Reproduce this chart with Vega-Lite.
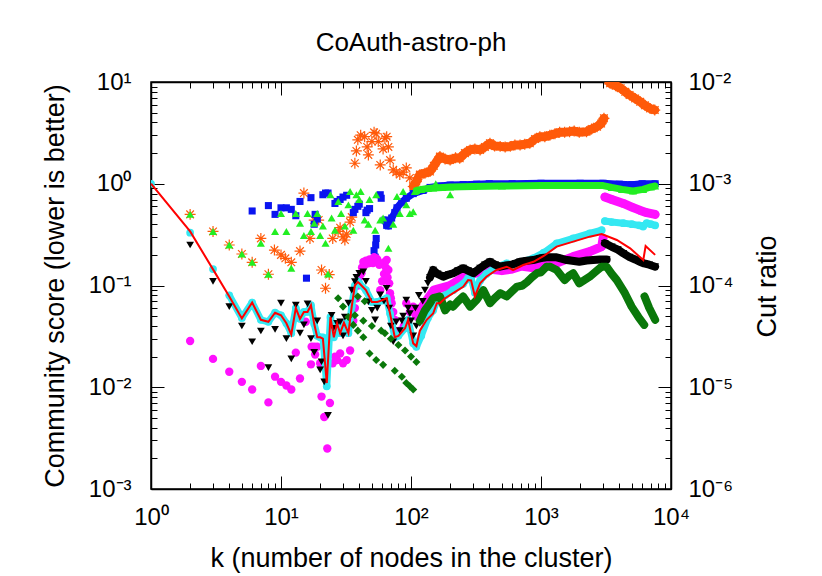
{
  "$schema": "https://vega.github.io/schema/vega-lite/v6.json",
  "width": 520,
  "height": 407,
  "autosize": {"type": "none"},
  "padding": {"left": 151, "top": 82, "right": 151, "bottom": 87},
  "background": "white",
  "title": {"text": "CoAuth-astro-ph", "fontSize": 26, "font": "Liberation Sans", "fontWeight": "normal", "color": "black", "anchor": "middle", "baseline": "alphabetic", "frame": "group", "offset": 34, "dy": 41},
  "config": {
    "view": {"stroke": "black", "strokeWidth": 1.5},
    "axis": {"tickColor": "black", "tickWidth": 1, "domainColor": "black", "domainWidth": 1.5, "labelColor": "black", "labelFont": "Liberation Sans", "labelFontSize": 24, "grid": false, "labelOverlap": false, "labelFlush": false, "labelBound": false, "titleFont": "Liberation Sans", "titleFontSize": 27, "titleFontWeight": "normal", "titleColor": "black"}
  },
  "resolve": {"axis": {"x": "independent", "y": "independent"}},
  "data": {"values": [
    {"s":"r","k":1,"v":1},{"s":"r","k":2,"v":0.34},{"s":"r","k":3,"v":0.144},{"s":"r","k":4,"v":0.078},{"s":"r","k":5,"v":0.0475},{"s":"r","k":6,"v":0.068},{"s":"r","k":7,"v":0.046},{"s":"r","k":8,"v":0.044},{"s":"r","k":9,"v":0.054},{"s":"r","k":10,"v":0.051},{"s":"r","k":11,"v":0.0425},{"s":"r","k":12,"v":0.033},{"s":"r","k":13,"v":0.06},{"s":"r","k":14,"v":0.047},{"s":"r","k":15,"v":0.055},{"s":"r","k":16,"v":0.055},{"s":"r","k":17,"v":0.064},{"s":"r","k":18,"v":0.042},{"s":"r","k":19,"v":0.031},{"s":"r","k":20,"v":0.031},{"s":"r","k":21,"v":0.03},{"s":"r","k":22.5,"v":0.011},{"s":"r","k":24,"v":0.049},{"s":"r","k":25.5,"v":0.031},{"s":"r","k":27,"v":0.0425},{"s":"r","k":28.5,"v":0.034},{"s":"r","k":30.5,"v":0.043},{"s":"r","k":33,"v":0.034},{"s":"r","k":35,"v":0.062},{"s":"r","k":37,"v":0.1},{"s":"r","k":39,"v":0.108},{"s":"r","k":40,"v":0.105},{"s":"r","k":45,"v":0.09},{"s":"r","k":50,"v":0.069},{"s":"r","k":55,"v":0.069},{"s":"r","k":59,"v":0.071},{"s":"r","k":65,"v":0.075},{"s":"r","k":69,"v":0.053},{"s":"r","k":75,"v":0.031},{"s":"r","k":80,"v":0.032},{"s":"r","k":90,"v":0.038},{"s":"r","k":95,"v":0.046},{"s":"r","k":104,"v":0.027},{"s":"r","k":110,"v":0.0254},{"s":"r","k":117,"v":0.036},{"s":"r","k":132,"v":0.046},{"s":"r","k":148,"v":0.053},{"s":"r","k":158,"v":0.067},{"s":"r","k":167,"v":0.067},{"s":"r","k":183,"v":0.075},{"s":"r","k":211,"v":0.084},{"s":"r","k":252,"v":0.097},{"s":"r","k":275,"v":0.113},{"s":"r","k":290,"v":0.112},{"s":"r","k":310,"v":0.078},{"s":"r","k":340,"v":0.105},{"s":"r","k":380,"v":0.122},{"s":"r","k":455,"v":0.142},{"s":"r","k":545,"v":0.153},{"s":"r","k":610,"v":0.142},{"s":"r","k":730,"v":0.159},{"s":"r","k":875,"v":0.171},{"s":"r","k":1050,"v":0.195},{"s":"r","k":1320,"v":0.241},{"s":"r","k":1770,"v":0.27},{"s":"r","k":2370,"v":0.302},{"s":"r","k":2930,"v":0.32},{"s":"r","k":3830,"v":0.28},{"s":"r","k":4850,"v":0.232},{"s":"r","k":6120,"v":0.178},{"s":"r","k":6380,"v":0.244},{"s":"r","k":7550,"v":0.2},

    {"s":"c","k":1,"v":1},{"s":"c","k":2,"v":0.33},{"s":"c","k":3,"v":0.145},{"s":"c","k":4,"v":0.08,"g":"c1"},{"s":"c","k":5,"v":0.048,"g":"c1"},{"s":"c","k":6,"v":0.068,"g":"c1"},{"s":"c","k":7,"v":0.046,"g":"c1"},{"s":"c","k":8,"v":0.044,"g":"c1"},{"s":"c","k":9,"v":0.054,"g":"c1"},{"s":"c","k":10,"v":0.051,"g":"c1"},{"s":"c","k":11,"v":0.0425,"g":"c1"},{"s":"c","k":12,"v":0.034,"g":"c1"},{"s":"c","k":13,"v":0.06,"g":"c1"},{"s":"c","k":14,"v":0.047,"g":"c1"},{"s":"c","k":15,"v":0.055,"g":"c1"},{"s":"c","k":16,"v":0.055,"g":"c1"},{"s":"c","k":17,"v":0.064,"g":"c1"},{"s":"c","k":18,"v":0.042,"g":"c1"},{"s":"c","k":19,"v":0.032,"g":"c1"},{"s":"c","k":20,"v":0.031,"g":"c1"},{"s":"c","k":21,"v":0.031,"g":"c1"},{"s":"c","k":22.5,"v":0.0102,"g":"c1"},{"s":"c","k":24,"v":0.049,"g":"c1"},{"s":"c","k":25.5,"v":0.031,"g":"c1"},{"s":"c","k":27,"v":0.042,"g":"c1"},{"s":"c","k":28.5,"v":0.034,"g":"c1"},{"s":"c","k":30.5,"v":0.043,"g":"c1"},{"s":"c","k":33,"v":0.034,"g":"c1"},{"s":"c","k":35,"v":0.062,"g":"c1"},{"s":"c","k":37,"v":0.1,"g":"c1"},{"s":"c","k":39,"v":0.11,"g":"c1"},{"s":"c","k":40,"v":0.105,"g":"c1"},{"s":"c","k":45,"v":0.09,"g":"c1"},{"s":"c","k":50,"v":0.069,"g":"c1"},{"s":"c","k":55,"v":0.069,"g":"c1"},{"s":"c","k":59,"v":0.071,"g":"c1"},{"s":"c","k":65,"v":0.075,"g":"c1"},{"s":"c","k":69,"v":0.053,"g":"c1"},{"s":"c","k":75,"v":0.031,"g":"c1"},{"s":"c","k":80,"v":0.032,"g":"c1"},{"s":"c","k":90,"v":0.038,"g":"c1"},{"s":"c","k":95,"v":0.046,"g":"c1"},{"s":"c","k":104,"v":0.027,"g":"c1"},{"s":"c","k":110,"v":0.025,"g":"c1"},{"s":"c","k":120,"v":0.032,"g":"c1"},{"s":"c","k":135,"v":0.048,"g":"c1"},{"s":"c","k":148,"v":0.057,"g":"c1"},{"s":"c","k":158,"v":0.07,"g":"c1"},{"s":"c","k":183,"v":0.08,"g":"c1"},{"s":"c","k":211,"v":0.09,"g":"c1"},{"s":"c","k":252,"v":0.104,"g":"c1"},{"s":"c","k":275,"v":0.118,"g":"c1"},{"s":"c","k":290,"v":0.118,"g":"c1"},{"s":"c","k":310,"v":0.085,"g":"c1"},{"s":"c","k":340,"v":0.112,"g":"c1"},{"s":"c","k":380,"v":0.13,"g":"c1"},{"s":"c","k":455,"v":0.152,"g":"c1"},{"s":"c","k":545,"v":0.165,"g":"c1"},{"s":"c","k":610,"v":0.155,"g":"c1"},{"s":"c","k":730,"v":0.172,"g":"c1"},{"s":"c","k":875,"v":0.186,"g":"c1"},{"s":"c","k":1050,"v":0.21,"g":"c1"},{"s":"c","k":1320,"v":0.26,"g":"c1"},{"s":"c","k":1770,"v":0.29,"g":"c1"},{"s":"c","k":2370,"v":0.325,"g":"c1"},{"s":"c","k":2930,"v":0.35,"g":"c1"},
    {"s":"c","k":3100,"v":0.43,"g":"c2"},{"s":"c","k":3500,"v":0.42,"g":"c2"},{"s":"c","k":4300,"v":0.41,"g":"c2"},{"s":"c","k":5000,"v":0.4,"g":"c2"},{"s":"c","k":5700,"v":0.39,"g":"c2"},{"s":"c","k":6100,"v":0.38,"g":"c2"},{"s":"c","k":6500,"v":0.41,"g":"c2"},{"s":"c","k":7000,"v":0.4,"g":"c2"},{"s":"c","k":7550,"v":0.39,"g":"c2"},

    {"s":"b","k":2,"v":0.25},{"s":"b","k":3,"v":0.11},{"s":"b","k":4,"v":0.062},{"s":"b","k":5,"v":0.04},{"s":"b","k":6,"v":0.028},{"s":"b","k":7,"v":0.0357},{"s":"b","k":8,"v":0.0156},{"s":"b","k":9,"v":0.037},{"s":"b","k":10,"v":0.067},{"s":"b","k":11,"v":0.03},{"s":"b","k":12,"v":0.019},{"s":"b","k":13,"v":0.064},{"s":"b","k":14,"v":0.034},{"s":"b","k":15,"v":0.041},{"s":"b","k":16,"v":0.066},{"s":"b","k":17,"v":0.03},{"s":"b","k":18,"v":0.022},{"s":"b","k":19,"v":0.045},{"s":"b","k":20,"v":0.0148},{"s":"b","k":20.5,"v":0.0178},{"s":"b","k":21.5,"v":0.0113},{"s":"b","k":23,"v":0.0053},{"s":"b","k":24.5,"v":0.051},{"s":"b","k":25.3,"v":0.038},{"s":"b","k":27,"v":0.0425},{"s":"b","k":28.5,"v":0.044},{"s":"b","k":30,"v":0.032},{"s":"b","k":31,"v":0.049},{"s":"b","k":33,"v":0.067},{"s":"b","k":35,"v":0.09},{"s":"b","k":37,"v":0.109},{"s":"b","k":38,"v":0.12},{"s":"b","k":40,"v":0.132},{"s":"b","k":43,"v":0.136},{"s":"b","k":45,"v":0.11},{"s":"b","k":47,"v":0.069},{"s":"b","k":50,"v":0.057},{"s":"b","k":53,"v":0.046},{"s":"b","k":55,"v":0.06},{"s":"b","k":58,"v":0.081},{"s":"b","k":62,"v":0.07},{"s":"b","k":65,"v":0.094},{"s":"b","k":68,"v":0.06},{"s":"b","k":70,"v":0.04},{"s":"b","k":73,"v":0.028},{"s":"b","k":77,"v":0.044},{"s":"b","k":82,"v":0.036},{"s":"b","k":85,"v":0.045},{"s":"b","k":87,"v":0.05},{"s":"b","k":92,"v":0.072},{"s":"b","k":95,"v":0.06},{"s":"b","k":98,"v":0.053},{"s":"b","k":100,"v":0.045},{"s":"b","k":104,"v":0.032},{"s":"b","k":108,"v":0.06},{"s":"b","k":110,"v":0.04},{"s":"b","k":115,"v":0.08},{"s":"b","k":117,"v":0.0425},{"s":"b","k":123,"v":0.07},{"s":"b","k":128,"v":0.09},{"s":"b","k":135,"v":0.105},
    {"s":"b","k":140,"v":0.12,"g":"b1"},{"s":"b","k":148,"v":0.142,"g":"b1"},{"s":"b","k":160,"v":0.13,"g":"b1"},{"s":"b","k":177,"v":0.122,"g":"b1"},{"s":"b","k":195,"v":0.128,"g":"b1"},{"s":"b","k":211,"v":0.132,"g":"b1"},{"s":"b","k":230,"v":0.14,"g":"b1"},{"s":"b","k":252,"v":0.148,"g":"b1"},{"s":"b","k":275,"v":0.14,"g":"b1"},{"s":"b","k":302,"v":0.132,"g":"b1"},{"s":"b","k":340,"v":0.148,"g":"b1"},{"s":"b","k":370,"v":0.16,"g":"b1"},{"s":"b","k":405,"v":0.171,"g":"b1"},{"s":"b","k":445,"v":0.16,"g":"b1"},{"s":"b","k":485,"v":0.153,"g":"b1"},{"s":"b","k":530,"v":0.157,"g":"b1"},{"s":"b","k":580,"v":0.159,"g":"b1"},{"s":"b","k":640,"v":0.165,"g":"b1"},{"s":"b","k":690,"v":0.171,"g":"b1"},{"s":"b","k":780,"v":0.175,"g":"b1"},{"s":"b","k":870,"v":0.178,"g":"b1"},{"s":"b","k":980,"v":0.185,"g":"b1"},{"s":"b","k":1100,"v":0.189,"g":"b1"},{"s":"b","k":1320,"v":0.189,"g":"b1"},{"s":"b","k":1580,"v":0.178,"g":"b1"},{"s":"b","k":1970,"v":0.171,"g":"b1"},{"s":"b","k":2250,"v":0.176,"g":"b1"},{"s":"b","k":2520,"v":0.178,"g":"b1"},{"s":"b","k":2850,"v":0.18,"g":"b1"},{"s":"b","k":3200,"v":0.18,"g":"b1"},
    {"s":"b","k":3100,"v":0.26,"g":"b2"},{"s":"b","k":3500,"v":0.24,"g":"b2"},{"s":"b","k":3900,"v":0.225,"g":"b2"},{"s":"b","k":4300,"v":0.207,"g":"b2"},{"s":"b","k":4800,"v":0.19,"g":"b2"},{"s":"b","k":5300,"v":0.18,"g":"b2"},{"s":"b","k":5740,"v":0.171,"g":"b2"},{"s":"b","k":6200,"v":0.165,"g":"b2"},{"s":"b","k":6800,"v":0.16,"g":"b2"},{"s":"b","k":7550,"v":0.153,"g":"b2"},

    {"s":"m","k":2,"v":0.0285},{"s":"m","k":3,"v":0.019},{"s":"m","k":4,"v":0.0142},{"s":"m","k":5,"v":0.0113},{"s":"m","k":6,"v":0.0095},{"s":"m","k":7,"v":0.0162},{"s":"m","k":8,"v":0.0071},{"s":"m","k":9,"v":0.0127},{"s":"m","k":10,"v":0.0113},{"s":"m","k":11,"v":0.0104},{"s":"m","k":12,"v":0.0095},{"s":"m","k":13,"v":0.0219},{"s":"m","k":14,"v":0.0122},{"s":"m","k":15.5,"v":0.044},{"s":"m","k":17,"v":0.0168},{"s":"m","k":17.2,"v":0.025},{"s":"m","k":18,"v":0.025},{"s":"m","k":18.3,"v":0.021},{"s":"m","k":19,"v":0.025},{"s":"m","k":20,"v":0.0172},{"s":"m","k":20.5,"v":0.0081},{"s":"m","k":21.5,"v":0.0051},{"s":"m","k":22.7,"v":0.0025},{"s":"m","k":23.8,"v":0.007},{"s":"m","k":25,"v":0.0172},{"s":"m","k":26,"v":0.02},{"s":"m","k":27,"v":0.0185},{"s":"m","k":28.5,"v":0.0215},{"s":"m","k":30,"v":0.0172},{"s":"m","k":32,"v":0.0185},{"s":"m","k":34,"v":0.023},{"s":"m","k":36,"v":0.045},{"s":"m","k":37,"v":0.06},{"s":"m","k":38,"v":0.075},{"s":"m","k":39,"v":0.1},{"s":"m","k":40,"v":0.12},{"s":"m","k":41.6,"v":0.132},{"s":"m","k":42,"v":0.15},{"s":"m","k":43,"v":0.17},{"s":"m","k":44,"v":0.159},{"s":"m","k":45,"v":0.175},{"s":"m","k":47,"v":0.165},{"s":"m","k":48,"v":0.18},{"s":"m","k":50,"v":0.17},{"s":"m","k":51,"v":0.166},{"s":"m","k":52,"v":0.19},{"s":"m","k":54,"v":0.185},{"s":"m","k":55,"v":0.18},{"s":"m","k":56,"v":0.171},{"s":"m","k":57,"v":0.16},{"s":"m","k":58,"v":0.09},{"s":"m","k":60,"v":0.11},{"s":"m","k":62,"v":0.13},{"s":"m","k":63,"v":0.17},{"s":"m","k":64,"v":0.15},{"s":"m","k":65,"v":0.178},{"s":"m","k":66,"v":0.12},{"s":"m","k":67,"v":0.142},{"s":"m","k":68,"v":0.105},{"s":"m","k":69,"v":0.084},{"s":"m","k":70,"v":0.075},{"s":"m","k":71,"v":0.067},{"s":"m","k":73,"v":0.055},{"s":"m","k":75,"v":0.046},{"s":"m","k":82,"v":0.036},{"s":"m","k":88,"v":0.04},{"s":"m","k":92,"v":0.067},{"s":"m","k":98,"v":0.055},{"s":"m","k":104,"v":0.062},
    {"s":"m","k":110,"v":0.05,"g":"m1"},{"s":"m","k":120,"v":0.06,"g":"m1"},{"s":"m","k":150,"v":0.09,"g":"m1"},{"s":"m","k":200,"v":0.1,"g":"m1"},{"s":"m","k":250,"v":0.12,"g":"m1"},{"s":"m","k":300,"v":0.13,"g":"m1"},{"s":"m","k":400,"v":0.145,"g":"m1"},{"s":"m","k":500,"v":0.14,"g":"m1"},{"s":"m","k":600,"v":0.145,"g":"m1"},{"s":"m","k":700,"v":0.155,"g":"m1"},{"s":"m","k":850,"v":0.15,"g":"m1"},{"s":"m","k":980,"v":0.153,"g":"m1"},{"s":"m","k":1320,"v":0.166,"g":"m1"},{"s":"m","k":1770,"v":0.192,"g":"m1"},{"s":"m","k":2370,"v":0.215,"g":"m1"},{"s":"m","k":2930,"v":0.241,"g":"m1"},{"s":"m","k":3000,"v":0.29,"g":"m1"},
    {"s":"m","k":3100,"v":0.74,"g":"m2"},{"s":"m","k":3500,"v":0.7,"g":"m2"},{"s":"m","k":4300,"v":0.64,"g":"m2"},{"s":"m","k":5000,"v":0.59,"g":"m2"},{"s":"m","k":5740,"v":0.55,"g":"m2"},{"s":"m","k":6500,"v":0.52,"g":"m2"},{"s":"m","k":7550,"v":0.5,"g":"m2"},

    {"s":"d","k":27.5,"v":0.075},{"s":"d","k":30,"v":0.062},{"s":"d","k":33,"v":0.049},{"s":"d","k":36,"v":0.041},{"s":"d","k":39,"v":0.036},{"s":"d","k":43,"v":0.031},{"s":"d","k":48,"v":0.0215},{"s":"d","k":54,"v":0.0185},{"s":"d","k":61,"v":0.0166},{"s":"d","k":39,"v":0.078},{"s":"d","k":44,"v":0.07},{"s":"d","k":37,"v":0.051},{"s":"d","k":43,"v":0.045},{"s":"d","k":50,"v":0.04},{"s":"d","k":59,"v":0.036},{"s":"d","k":63,"v":0.034},{"s":"d","k":70,"v":0.03},{"s":"d","k":80,"v":0.026},{"s":"d","k":90,"v":0.023},{"s":"d","k":100,"v":0.02},{"s":"d","k":110,"v":0.0177},{"s":"d","k":75,"v":0.0145},{"s":"d","k":85,"v":0.0127},{"s":"d","k":92,"v":0.011},{"s":"d","k":98,"v":0.0102},{"s":"d","k":104,"v":0.0095},
    {"s":"d","k":117,"v":0.045,"g":"d1"},{"s":"d","k":128,"v":0.057,"g":"d1"},{"s":"d","k":140,"v":0.067,"g":"d1"},{"s":"d","k":148,"v":0.075,"g":"d1"},{"s":"d","k":167,"v":0.078,"g":"d1"},{"s":"d","k":183,"v":0.057,"g":"d1"},{"s":"d","k":200,"v":0.065,"g":"d1"},{"s":"d","k":211,"v":0.062,"g":"d1"},{"s":"d","k":230,"v":0.07,"g":"d1"},{"s":"d","k":252,"v":0.078,"g":"d1"},{"s":"d","k":285,"v":0.062,"g":"d1"},{"s":"d","k":320,"v":0.072,"g":"d1"},{"s":"d","k":360,"v":0.09,"g":"d1"},{"s":"d","k":405,"v":0.067,"g":"d1"},{"s":"d","k":440,"v":0.075,"g":"d1"},{"s":"d","k":485,"v":0.084,"g":"d1"},{"s":"d","k":545,"v":0.078,"g":"d1"},{"s":"d","k":600,"v":0.088,"g":"d1"},{"s":"d","k":650,"v":0.097,"g":"d1"},{"s":"d","k":720,"v":0.1,"g":"d1"},{"s":"d","k":780,"v":0.108,"g":"d1"},{"s":"d","k":850,"v":0.12,"g":"d1"},{"s":"d","k":930,"v":0.132,"g":"d1"},{"s":"d","k":1000,"v":0.135,"g":"d1"},{"s":"d","k":1100,"v":0.153,"g":"d1"},{"s":"d","k":1170,"v":0.153,"g":"d1"},{"s":"d","k":1320,"v":0.142,"g":"d1"},{"s":"d","k":1520,"v":0.113,"g":"d1"},{"s":"d","k":1650,"v":0.125,"g":"d1"},{"s":"d","k":1770,"v":0.132,"g":"d1"},{"s":"d","k":1970,"v":0.105,"g":"d1"},{"s":"d","k":2370,"v":0.122,"g":"d1"},{"s":"d","k":2600,"v":0.135,"g":"d1"},{"s":"d","k":2930,"v":0.153,"g":"d1"},{"s":"d","k":3200,"v":0.153,"g":"d1"},{"s":"d","k":3500,"v":0.13,"g":"d1"},{"s":"d","k":3830,"v":0.113,"g":"d1"},{"s":"d","k":4420,"v":0.084,"g":"d1"},{"s":"d","k":4980,"v":0.062,"g":"d1"},{"s":"d","k":5620,"v":0.049,"g":"d1"},{"s":"d","k":6220,"v":0.041,"g":"d1"},
    {"s":"d","k":6260,"v":0.078,"g":"d2"},{"s":"d","k":6800,"v":0.06,"g":"d2"},{"s":"d","k":7550,"v":0.046,"g":"d2"},

    {"s":"u","k":6,"v":0.54},{"s":"u","k":8,"v":0.61},{"s":"u","k":9,"v":0.5},{"s":"u","k":10,"v":0.58},{"s":"u","k":11,"v":0.58},{"s":"u","k":12,"v":0.56},{"s":"u","k":13,"v":0.485},{"s":"u","k":14,"v":0.67},{"s":"u","k":15.7,"v":0.118},{"s":"u","k":17,"v":0.73},{"s":"u","k":18,"v":0.4},{"s":"u","k":18.3,"v":0.5},{"s":"u","k":19,"v":0.45},{"s":"u","k":21,"v":0.78},{"s":"u","k":22,"v":0.81},{"s":"u","k":23,"v":0.81},{"s":"u","k":26,"v":0.64},{"s":"u","k":27,"v":0.67},{"s":"u","k":28.5,"v":0.7},{"s":"u","k":30,"v":0.74},{"s":"u","k":32,"v":0.77},{"s":"u","k":36,"v":0.52},{"s":"u","k":37,"v":0.56},{"s":"u","k":39,"v":0.6},{"s":"u","k":40,"v":0.63},{"s":"u","k":45,"v":0.52},{"s":"u","k":46,"v":0.55},{"s":"u","k":48,"v":0.57},{"s":"u","k":52,"v":0.22},{"s":"u","k":53,"v":0.19},{"s":"u","k":53.5,"v":0.25},{"s":"u","k":54,"v":0.29},{"s":"u","k":58,"v":0.78},{"s":"u","k":59,"v":0.72},
    {"s":"u","k":63,"v":0.44,"g":"u1"},{"s":"u","k":65,"v":0.39,"g":"u1"},{"s":"u","k":67,"v":0.385,"g":"u1"},{"s":"u","k":71,"v":0.46,"g":"u1"},{"s":"u","k":75,"v":0.52,"g":"u1"},{"s":"u","k":78,"v":0.58,"g":"u1"},{"s":"u","k":85,"v":0.66,"g":"u1"},{"s":"u","k":92,"v":0.72,"g":"u1"},{"s":"u","k":104,"v":0.8,"g":"u1"},{"s":"u","k":124,"v":0.86,"g":"u1"},{"s":"u","k":140,"v":0.92,"g":"u1"},{"s":"u","k":167,"v":0.95,"g":"u1"},{"s":"u","k":200,"v":0.97,"g":"u1"},{"s":"u","k":252,"v":0.98,"g":"u1"},{"s":"u","k":320,"v":0.99,"g":"u1"},{"s":"u","k":400,"v":1,"g":"u1"},{"s":"u","k":600,"v":1,"g":"u1"},{"s":"u","k":1000,"v":1.01,"g":"u1"},{"s":"u","k":2000,"v":1.01,"g":"u1"},{"s":"u","k":3000,"v":1.01,"g":"u1"},{"s":"u","k":4000,"v":0.99,"g":"u1"},{"s":"u","k":5000,"v":0.98,"g":"u1"},{"s":"u","k":6000,"v":1,"g":"u1"},{"s":"u","k":7550,"v":1,"g":"u1"},

    {"s":"n","k":1,"v":1},{"s":"n","k":2,"v":0.5},{"s":"n","k":3,"v":0.34},{"s":"n","k":4,"v":0.25},{"s":"n","k":5,"v":0.204},{"s":"n","k":6,"v":0.169},{"s":"n","k":7,"v":0.26},{"s":"n","k":8,"v":0.129},{"s":"n","k":9,"v":0.34},{"s":"n","k":10,"v":0.51},{"s":"n","k":11,"v":0.34},{"s":"n","k":12,"v":0.148},{"s":"n","k":13,"v":0.51},{"s":"n","k":14,"v":0.41},{"s":"n","k":15,"v":0.31},{"s":"n","k":16,"v":0.51},{"s":"n","k":17,"v":0.34},{"s":"n","k":18,"v":0.41},{"s":"n","k":19,"v":0.51},{"s":"n","k":20,"v":0.31},{"s":"n","k":21,"v":0.385},{"s":"n","k":22,"v":0.26},{"s":"n","k":23,"v":0.13},{"s":"n","k":24,"v":0.78},{"s":"n","k":24.5,"v":0.46},{"s":"n","k":26,"v":0.35},{"s":"n","k":27.6,"v":0.67},{"s":"n","k":29,"v":0.51},{"s":"n","k":31,"v":0.385},{"s":"n","k":33,"v":0.62},{"s":"n","k":34,"v":0.84},{"s":"n","k":36,"v":0.35},{"s":"n","k":38,"v":0.78},{"s":"n","k":40,"v":0.7},{"s":"n","k":41,"v":0.84},{"s":"n","k":44,"v":0.44},{"s":"n","k":47,"v":0.4},{"s":"n","k":48,"v":0.7},{"s":"n","k":53,"v":0.35},{"s":"n","k":54,"v":0.78},{"s":"n","k":58,"v":0.44},{"s":"n","k":61,"v":0.46},{"s":"n","k":67,"v":0.232},{"s":"n","k":73,"v":0.4},{"s":"n","k":78,"v":0.75},{"s":"n","k":82,"v":0.51},{"s":"n","k":87,"v":0.84},{"s":"n","k":92,"v":0.62},{"s":"n","k":98,"v":0.51},{"s":"n","k":104,"v":0.53},{"s":"n","k":107,"v":0.84},{"s":"n","k":155,"v":1.0},{"s":"n","k":200,"v":0.78},
    {"s":"n","k":110,"v":0.86,"g":"n1"},{"s":"n","k":120,"v":0.88,"g":"n1"},{"s":"n","k":135,"v":0.9,"g":"n1"},{"s":"n","k":148,"v":0.91,"g":"n1"},{"s":"n","k":175,"v":0.92,"g":"n1"},{"s":"n","k":200,"v":0.93,"g":"n1"},{"s":"n","k":300,"v":0.94,"g":"n1"},{"s":"n","k":500,"v":0.95,"g":"n1"},{"s":"n","k":1000,"v":0.96,"g":"n1"},{"s":"n","k":2000,"v":0.96,"g":"n1"},{"s":"n","k":3000,"v":0.96,"g":"n1"},{"s":"n","k":3500,"v":0.92,"g":"n1"},{"s":"n","k":4200,"v":0.88,"g":"n1"},{"s":"n","k":5100,"v":0.85,"g":"n1"},{"s":"n","k":6100,"v":0.88,"g":"n1"},{"s":"n","k":7000,"v":0.93,"g":"n1"},{"s":"n","k":7550,"v":0.95,"g":"n1"},

    {"s":"o","k":2,"v":0.5},{"s":"o","k":3,"v":0.34},{"s":"o","k":4,"v":0.25},{"s":"o","k":5,"v":0.204},{"s":"o","k":6,"v":0.169},{"s":"o","k":7,"v":0.29},{"s":"o","k":8,"v":0.129},{"s":"o","k":8.9,"v":0.223},{"s":"o","k":10,"v":0.2},{"s":"o","k":10.8,"v":0.185},{"s":"o","k":12,"v":0.169},{"s":"o","k":14,"v":0.218},{"s":"o","k":15,"v":0.81},{"s":"o","k":16.7,"v":0.29},{"s":"o","k":18,"v":0.44},{"s":"o","k":19.5,"v":0.44},{"s":"o","k":20.5,"v":0.142},{"s":"o","k":22,"v":0.094},{"s":"o","k":23.5,"v":0.128},{"s":"o","k":25,"v":0.29},{"s":"o","k":27.5,"v":0.34},{"s":"o","k":28.5,"v":0.37},{"s":"o","k":30,"v":0.3},{"s":"o","k":31,"v":0.28},{"s":"o","k":32,"v":0.32},{"s":"o","k":34,"v":0.42},{"s":"o","k":35,"v":0.47},
    {"s":"o","k":37,"v":1.59},{"s":"o","k":38,"v":2.1},{"s":"o","k":39,"v":2.7},{"s":"o","k":41,"v":3.0},{"s":"o","k":44,"v":2.9},{"s":"o","k":46,"v":2.3},{"s":"o","k":47,"v":1.92},{"s":"o","k":50,"v":2.6},{"s":"o","k":52,"v":3.2},{"s":"o","k":54,"v":3.1},{"s":"o","k":56,"v":2.6},{"s":"o","k":58,"v":1.53},{"s":"o","k":61,"v":2.2},{"s":"o","k":63,"v":2.8},{"s":"o","k":65,"v":2.9},{"s":"o","k":67,"v":2.3},{"s":"o","k":69,"v":1.71},{"s":"o","k":73,"v":1.37},{"s":"o","k":77,"v":1.3},{"s":"o","k":82,"v":1.23},{"s":"o","k":87,"v":1.3},{"s":"o","k":92,"v":1.43},{"s":"o","k":98,"v":1.14},
    {"s":"o","k":104,"v":0.94,"g":"o1"},{"s":"o","k":110,"v":1.05,"g":"o1"},{"s":"o","k":117,"v":1.23,"g":"o1"},{"s":"o","k":128,"v":1.27,"g":"o1"},{"s":"o","k":140,"v":1.32,"g":"o1"},{"s":"o","k":150,"v":1.5,"g":"o1"},{"s":"o","k":167,"v":1.85,"g":"o1"},{"s":"o","k":183,"v":1.75,"g":"o1"},{"s":"o","k":200,"v":1.71,"g":"o1"},{"s":"o","k":220,"v":1.8,"g":"o1"},{"s":"o","k":237,"v":1.78,"g":"o1"},{"s":"o","k":260,"v":2.0,"g":"o1"},{"s":"o","k":285,"v":2.15,"g":"o1"},{"s":"o","k":310,"v":2.2,"g":"o1"},{"s":"o","k":340,"v":2.15,"g":"o1"},{"s":"o","k":370,"v":2.3,"g":"o1"},{"s":"o","k":405,"v":2.5,"g":"o1"},{"s":"o","k":440,"v":2.35,"g":"o1"},{"s":"o","k":485,"v":2.33,"g":"o1"},{"s":"o","k":530,"v":2.3,"g":"o1"},{"s":"o","k":580,"v":2.33,"g":"o1"},{"s":"o","k":630,"v":2.4,"g":"o1"},{"s":"o","k":690,"v":2.4,"g":"o1"},{"s":"o","k":750,"v":2.45,"g":"o1"},{"s":"o","k":820,"v":2.5,"g":"o1"},{"s":"o","k":900,"v":2.75,"g":"o1"},{"s":"o","k":980,"v":2.9,"g":"o1"},{"s":"o","k":1070,"v":2.9,"g":"o1"},{"s":"o","k":1170,"v":3.0,"g":"o1"},{"s":"o","k":1280,"v":3.1,"g":"o1"},{"s":"o","k":1390,"v":3.2,"g":"o1"},{"s":"o","k":1520,"v":3.2,"g":"o1"},{"s":"o","k":1660,"v":3.25,"g":"o1"},{"s":"o","k":1800,"v":3.3,"g":"o1"},{"s":"o","k":1970,"v":3.2,"g":"o1"},{"s":"o","k":2240,"v":3.25,"g":"o1"},{"s":"o","k":2450,"v":3.45,"g":"o1"},{"s":"o","k":2700,"v":3.64,"g":"o1"},{"s":"o","k":2900,"v":3.9,"g":"o1"},{"s":"o","k":3050,"v":4.4,"g":"o1"},
    {"s":"o","k":3300,"v":10.3,"g":"o2"},{"s":"o","k":3400,"v":9.7,"g":"o2"},{"s":"o","k":3750,"v":9.2,"g":"o2"},{"s":"o","k":4100,"v":8.7,"g":"o2"},{"s":"o","k":4450,"v":8.0,"g":"o2"},{"s":"o","k":4800,"v":7.45,"g":"o2"},{"s":"o","k":5300,"v":6.9,"g":"o2"},{"s":"o","k":5800,"v":6.4,"g":"o2"},{"s":"o","k":6300,"v":5.9,"g":"o2"},{"s":"o","k":6900,"v":5.5,"g":"o2"},{"s":"o","k":7500,"v":5.3,"g":"o2"}
  ]},
  "layer": [
    {
      "transform": [{"filter": "datum.s == 'o' && datum.g"}],
      "mark": {"type": "line", "color": "#ff5a0a", "strokeWidth": 9, "strokeCap": "round", "strokeJoin": "round", "clip": true},
      "encoding": {
        "x": {"field": "k", "type": "quantitative", "scale": {"type": "log", "domain": [1, 10000]},
          "axis": {"orient": "bottom", "values": [1,2,3,4,5,6,7,8,9,10,20,30,40,50,60,70,80,90,100,200,300,400,500,600,700,800,900,1000,2000,3000,4000,5000,6000,7000,8000,9000,10000],
            "labelExpr": "datum.value == 1 ? '10⁰' : datum.value == 10 ? '10¹' : datum.value == 100 ? '10²' : datum.value == 1000 ? '10³' : datum.value == 10000 ? '10⁴' : ''",
            "tickSize": {"condition": {"test": "indexof([1,10,100,1000,10000], datum.value) >= 0", "value": -13}, "value": -6},
            "labelPadding": 29,
            "title": "k (number of nodes in the cluster)", "titleX": 260, "titleY": 77, "titleBaseline": "alphabetic", "titleAlign": "center"}},
        "y": {"field": "v", "type": "quantitative", "scale": {"type": "log", "domain": [0.001, 10]},
          "axis": {"orient": "left", "values": [0.001,0.002,0.003,0.004,0.005,0.006,0.007,0.008,0.009,0.01,0.02,0.03,0.04,0.05,0.06,0.07,0.08,0.09,0.1,0.2,0.3,0.4,0.5,0.6,0.7,0.8,0.9,1,2,3,4,5,6,7,8,9,10],
            "labelExpr": "datum.value == 10 ? '10¹' : datum.value == 1 ? '10⁰' : datum.value == 0.1 ? '10⁻¹' : datum.value == 0.01 ? '10⁻²' : datum.value == 0.001 ? '10⁻³' : ''",
            "tickSize": {"condition": {"test": "indexof([0.001,0.01,0.1,1,10], datum.value) >= 0", "value": -13}, "value": -6},
            "labelPadding": 33,
            "title": "Community score (lower is better)", "titleAngle": 270, "titleX": -88, "titleY": 203.5, "titleBaseline": "alphabetic", "titleAlign": "center"}},
        "detail": {"field": "g"}
      }
    },
    {
      "transform": [{"filter": "datum.s == 'o'"}],
      "mark": {"type": "point", "shape": "M-1,0L1,0M0,-1L0,1M-0.7,-0.7L0.7,0.7M-0.7,0.7L0.7,-0.7", "filled": false, "color": "#ff5a0a", "strokeWidth": 1.2, "size": 120, "opacity": 1, "clip": true},
      "encoding": {
        "x": {"field": "k", "type": "quantitative", "scale": {"type": "log", "domain": [1, 10000]},
          "axis": {"orient": "top", "values": [1,2,3,4,5,6,7,8,9,10,20,30,40,50,60,70,80,90,100,200,300,400,500,600,700,800,900,1000,2000,3000,4000,5000,6000,7000,8000,9000,10000],
            "labels": false, "title": null,
            "tickSize": {"condition": {"test": "indexof([1,10,100,1000,10000], datum.value) >= 0", "value": -13}, "value": -6}}},
        "y": {"field": "v", "type": "quantitative", "scale": {"type": "log", "domain": [0.001, 10]},
          "axis": {"orient": "right", "values": [0.001,0.002,0.003,0.004,0.005,0.006,0.007,0.008,0.009,0.01,0.02,0.03,0.04,0.05,0.06,0.07,0.08,0.09,0.1,0.2,0.3,0.4,0.5,0.6,0.7,0.8,0.9,1,2,3,4,5,6,7,8,9,10],
            "labelExpr": "datum.value == 10 ? '10⁻²' : datum.value == 1 ? '10⁻³' : datum.value == 0.1 ? '10⁻⁴' : datum.value == 0.01 ? '10⁻⁵' : datum.value == 0.001 ? '10⁻⁶' : ''",
            "tickSize": {"condition": {"test": "indexof([0.001,0.01,0.1,1,10], datum.value) >= 0", "value": -13}, "value": -6},
            "labelPadding": 30,
            "title": "Cut ratio", "titleAngle": 270, "titleX": 104, "titleY": 204, "titleBaseline": "alphabetic", "titleAlign": "center"}}
      }
    },
    {
      "transform": [{"filter": "datum.s == 'u' && datum.g"}],
      "mark": {"type": "line", "color": "#0a14f0", "strokeWidth": 7, "strokeCap": "round", "strokeJoin": "round", "clip": true},
      "encoding": {"x": {"field": "k", "type": "quantitative", "scale": {"type": "log", "domain": [1, 10000]}, "axis": null}, "y": {"field": "v", "type": "quantitative", "scale": {"type": "log", "domain": [0.001, 10]}, "axis": null}, "detail": {"field": "g"}}
    },
    {
      "transform": [{"filter": "datum.s == 'u'"}],
      "mark": {"type": "point", "shape": "square", "filled": true, "color": "#0a14f0", "size": 50, "opacity": 1, "clip": true},
      "encoding": {"x": {"field": "k", "type": "quantitative", "scale": {"type": "log", "domain": [1, 10000]}, "axis": null}, "y": {"field": "v", "type": "quantitative", "scale": {"type": "log", "domain": [0.001, 10]}, "axis": null}}
    },
    {
      "transform": [{"filter": "datum.s == 'n' && datum.g"}],
      "mark": {"type": "line", "color": "#22ee22", "strokeWidth": 7, "strokeCap": "round", "strokeJoin": "round", "clip": true},
      "encoding": {"x": {"field": "k", "type": "quantitative", "scale": {"type": "log", "domain": [1, 10000]}, "axis": null}, "y": {"field": "v", "type": "quantitative", "scale": {"type": "log", "domain": [0.001, 10]}, "axis": null}, "detail": {"field": "g"}}
    },
    {
      "transform": [{"filter": "datum.s == 'n'"}],
      "mark": {"type": "point", "shape": "triangle-up", "filled": true, "color": "#22ee22", "size": 65, "opacity": 1, "clip": true},
      "encoding": {"x": {"field": "k", "type": "quantitative", "scale": {"type": "log", "domain": [1, 10000]}, "axis": null}, "y": {"field": "v", "type": "quantitative", "scale": {"type": "log", "domain": [0.001, 10]}, "axis": null}}
    },
    {
      "transform": [{"filter": "datum.s == 'm' && datum.g"}],
      "mark": {"type": "line", "color": "#ff10ff", "strokeWidth": 9, "strokeCap": "round", "strokeJoin": "round", "clip": true},
      "encoding": {"x": {"field": "k", "type": "quantitative", "scale": {"type": "log", "domain": [1, 10000]}, "axis": null}, "y": {"field": "v", "type": "quantitative", "scale": {"type": "log", "domain": [0.001, 10]}, "axis": null}, "detail": {"field": "g"}}
    },
    {
      "transform": [{"filter": "datum.s == 'm'"}],
      "mark": {"type": "point", "shape": "circle", "filled": true, "color": "#ff10ff", "size": 70, "opacity": 1, "clip": true},
      "encoding": {"x": {"field": "k", "type": "quantitative", "scale": {"type": "log", "domain": [1, 10000]}, "axis": null}, "y": {"field": "v", "type": "quantitative", "scale": {"type": "log", "domain": [0.001, 10]}, "axis": null}}
    },
    {
      "transform": [{"filter": "datum.s == 'c' && datum.g"}],
      "mark": {"type": "line", "color": "#35e8f2", "strokeWidth": 7, "strokeCap": "round", "strokeJoin": "round", "clip": true},
      "encoding": {"x": {"field": "k", "type": "quantitative", "scale": {"type": "log", "domain": [1, 10000]}, "axis": null}, "y": {"field": "v", "type": "quantitative", "scale": {"type": "log", "domain": [0.001, 10]}, "axis": null}, "detail": {"field": "g"}}
    },
    {
      "transform": [{"filter": "datum.s == 'c'"}],
      "mark": {"type": "point", "shape": "circle", "filled": true, "color": "#35e8f2", "size": 60, "opacity": 1, "clip": true},
      "encoding": {"x": {"field": "k", "type": "quantitative", "scale": {"type": "log", "domain": [1, 10000]}, "axis": null}, "y": {"field": "v", "type": "quantitative", "scale": {"type": "log", "domain": [0.001, 10]}, "axis": null}}
    },
    {
      "transform": [{"filter": "datum.s == 'b' && datum.g"}],
      "mark": {"type": "line", "color": "#000000", "strokeWidth": 8, "strokeCap": "round", "strokeJoin": "round", "clip": true},
      "encoding": {"x": {"field": "k", "type": "quantitative", "scale": {"type": "log", "domain": [1, 10000]}, "axis": null}, "y": {"field": "v", "type": "quantitative", "scale": {"type": "log", "domain": [0.001, 10]}, "axis": null}, "detail": {"field": "g"}}
    },
    {
      "transform": [{"filter": "datum.s == 'b'"}],
      "mark": {"type": "point", "shape": "triangle-down", "filled": true, "color": "#000000", "size": 60, "opacity": 1, "clip": true},
      "encoding": {"x": {"field": "k", "type": "quantitative", "scale": {"type": "log", "domain": [1, 10000]}, "axis": null}, "y": {"field": "v", "type": "quantitative", "scale": {"type": "log", "domain": [0.001, 10]}, "axis": null}}
    },
    {
      "transform": [{"filter": "datum.s == 'd' && datum.g"}],
      "mark": {"type": "line", "color": "#0a780a", "strokeWidth": 8, "strokeCap": "round", "strokeJoin": "round", "clip": true},
      "encoding": {"x": {"field": "k", "type": "quantitative", "scale": {"type": "log", "domain": [1, 10000]}, "axis": null}, "y": {"field": "v", "type": "quantitative", "scale": {"type": "log", "domain": [0.001, 10]}, "axis": null}, "detail": {"field": "g"}}
    },
    {
      "transform": [{"filter": "datum.s == 'd'"}],
      "mark": {"type": "point", "shape": "diamond", "filled": true, "color": "#0a780a", "size": 65, "opacity": 1, "clip": true},
      "encoding": {"x": {"field": "k", "type": "quantitative", "scale": {"type": "log", "domain": [1, 10000]}, "axis": null}, "y": {"field": "v", "type": "quantitative", "scale": {"type": "log", "domain": [0.001, 10]}, "axis": null}}
    },
    {
      "transform": [{"filter": "datum.s == 'r'"}],
      "mark": {"type": "line", "color": "#ff0000", "strokeWidth": 2, "clip": true},
      "encoding": {"x": {"field": "k", "type": "quantitative", "scale": {"type": "log", "domain": [1, 10000]}, "axis": null}, "y": {"field": "v", "type": "quantitative", "scale": {"type": "log", "domain": [0.001, 10]}, "axis": null}}
    }
  ]
}
